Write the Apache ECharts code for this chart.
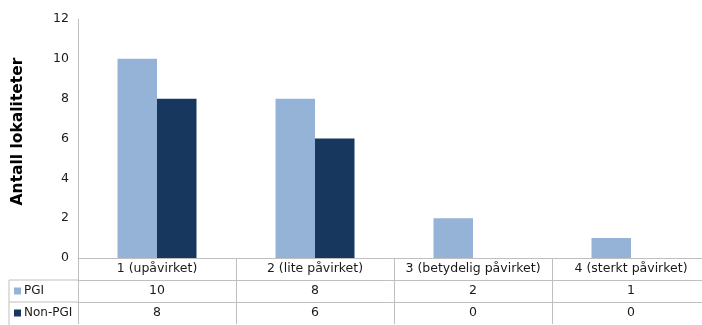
<!DOCTYPE html>
<html>
<head>
<meta charset="utf-8">
<script src="https://cdn.jsdelivr.net/npm/echarts@6/dist/echarts.min.js"></script>
<style>
  html, body { margin: 0; padding: 0; background: #fff; }
  #chart { width: 702px; height: 325px; }
</style>
</head>
<body>
<div id="chart"></div>
<script>
// data
const categories = ['1 (upåvirket)', '2 (lite påvirket)', '3 (betydelig påvirket)', '4 (sterkt påvirket)'];
const pgi = [10, 8, 2, 1];
const nonPgi = [8, 6, 0, 0];
const seriesNames = ['PGI', 'Non-PGI'];
const yTicks = [0, 2, 4, 6, 8, 10, 12];

const colors = ['#95B3D7', '#17375E'];
const lineColor = '#BFBFBF';
const font = 'DejaVu Sans';

const chart = echarts.init(document.getElementById('chart'));

// one x axis per table row, stacked below the plot with offset
function tableAxis(data, offset, showTicks) {
  return {
    type: 'category',
    data: data,
    position: 'bottom',
    offset: offset,
    axisLine: { show: true, lineStyle: { color: lineColor, width: 1 } },
    axisTick: { show: showTicks, length: 66, interval: 0, lineStyle: { color: lineColor } },
    axisLabel: { interval: 0, margin: 4, color: '#1a1a1a', fontSize: 12.5, fontFamily: font },
    splitLine: { show: false }
  };
}

// the original plot runs a bit past the right edge of the picture
chart.setOption({
  animation: false,
  textStyle: { fontFamily: font },
  grid: { left: 78, width: 632, top: 19, bottom: 67, containLabel: false, outerBoundsMode: 'none' },
  xAxis: [
    tableAxis(categories, 0, true),
    tableAxis(pgi.map(String), 22, false),
    tableAxis(nonPgi.map(String), 44, false)
  ],
  yAxis: {
    type: 'value',
    min: yTicks[0],
    max: yTicks[yTicks.length - 1],
    interval: 2,
    name: 'Antall lokaliteter',
    nameLocation: 'middle',
    nameGap: 52,
    nameTextStyle: { fontSize: 15.5, fontWeight: 'bold', color: '#000', fontFamily: font, padding: [0, 0, 0, 14] },
    axisLine: { show: true, lineStyle: { color: lineColor } },
    axisTick: { show: false },
    splitLine: { show: false },
    axisLabel: { color: '#1a1a1a', fontSize: 12.5, margin: 9, fontFamily: font }
  },
  series: [
    {
      name: seriesNames[0], type: 'bar', data: pgi, xAxisIndex: 0,
      barGap: '0%', barCategoryGap: '50%',
      itemStyle: { color: colors[0] }
    },
    {
      name: seriesNames[1], type: 'bar', data: nonPgi, xAxisIndex: 0,
      barGap: '0%', barCategoryGap: '50%',
      itemStyle: { color: colors[1] }
    }
  ]
});

// legend column of the data table, left of the plot
const yBase = chart.convertToPixel({ yAxisIndex: 0 }, 0);
const left = 9;
const gridLeft = 78;
const rowH = 22;
const g = [];
[1, 2].forEach(function (r) {
  g.push({ type: 'line', shape: { x1: left, y1: yBase + rowH * r, x2: gridLeft, y2: yBase + rowH * r },
    style: { stroke: lineColor, lineWidth: 1 } });
});
g.push({ type: 'line', shape: { x1: left, y1: yBase + rowH, x2: left, y2: 325 },
  style: { stroke: lineColor, lineWidth: 1 } });
seriesNames.forEach(function (name, i) {
  const cy = yBase + rowH * (i + 1) + rowH / 2;
  g.push({ type: 'rect', shape: { x: 14, y: cy - 3.5, width: 7, height: 7 }, style: { fill: colors[i] } });
  g.push({ type: 'text', x: 24, y: cy, style: { text: name, fill: '#1a1a1a', font: '12px "' + font + '"', verticalAlign: 'middle' } });
});
chart.setOption({ graphic: g });
</script>
</body>
</html>
